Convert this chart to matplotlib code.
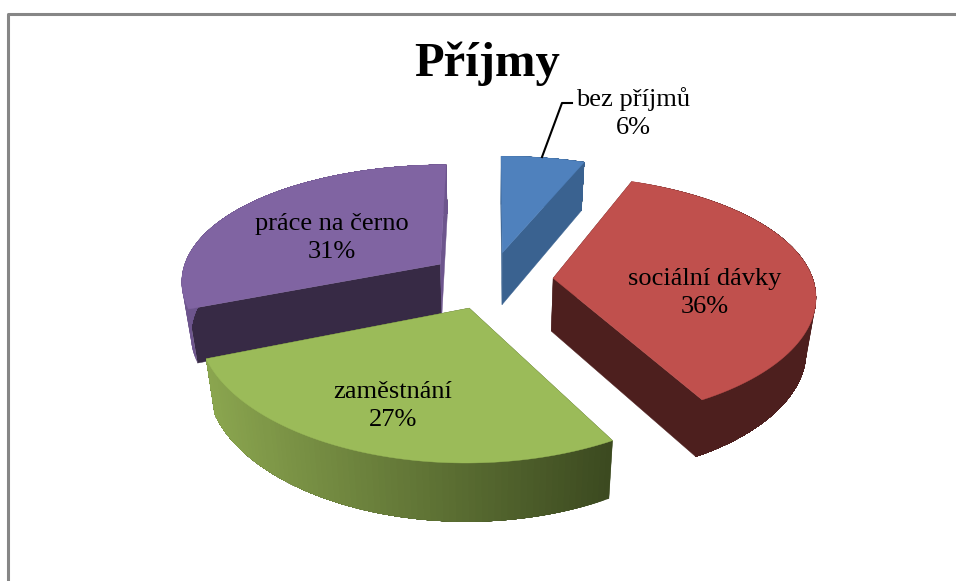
import numpy as np
import matplotlib
matplotlib.use('Agg')
import matplotlib.pyplot as plt
from matplotlib.colors import to_rgb
from matplotlib.patches import Polygon

labels = ['bez příjmů', 'sociální dávky', 'zaměstnání', 'práce na černo']
values = [6, 36, 27, 31]
percent_labels = ['6%', '36%', '27%', '31%']

top_colors = ['#4f81bd', '#c0504d', '#9bbb59', '#8064a2']
start_face_colors = ['#3a6290', '#4d1f1e', '#3f4d22', '#372a45']
stop_face_colors = ['#3a6290', '#4d1f1e', '#3f4d22', '#6d558d']
rim_left_colors = ['#3a6290', '#4d1f1e', '#8ba64f', '#6d558d']
rim_right_colors = ['#3a6290', '#4d1f1e', '#3c4a20', '#6d558d']

# Projektion der Torte
CX, CY = 491, 280
RX, RY = 260, 120
PERSP_X = 0.13
PERSP_Y = 0.16
PERSP_Z = 0.08
EXPLODE = 0.24
DEPTH = 53
BOTTOM_SCALE = 0.97


def project(x, y, z=0.0):
    sx = RX * x / (1 + PERSP_X * y)
    if z:
        sx = sx * BOTTOM_SCALE
    sy = CY - RY * y / (1 + PERSP_Y * y) + z / (1 + PERSP_Z * y)
    return np.column_stack((CX + sx, sy))


def blend(c1, c2, t):
    c1 = np.array(to_rgb(c1))
    c2 = np.array(to_rgb(c2))
    return tuple(c1 + (c2 - c1) * t)


def draw_slice(ax, start, stop, i):
    mid = (start + stop) / 2
    ox, oy = EXPLODE * np.sin(mid), EXPLODE * np.cos(mid)
    theta = np.linspace(start, stop, 80)
    x = ox + np.sin(theta)
    y = oy + np.cos(theta)

    # radiale Seitenflaechen
    for a, col in ((start, start_face_colors[i]), (stop, stop_face_colors[i])):
        xs = np.array([ox, ox + np.sin(a)])
        ys = np.array([oy, oy + np.cos(a)])
        quad = np.vstack((project(xs, ys), project(xs, ys, DEPTH)[::-1]))
        ax.add_patch(Polygon(quad, fc=col, ec=col, lw=0.3))

    # Rand mit Farbverlauf, verschachtelt damit keine Streifen entstehen
    up = project(x, y)
    down = project(x, y, DEPTH)
    left, right = up[:, 0].min(), up[:, 0].max()
    for k in range(len(theta) - 1):
        t = (up[k, 0] - left) / max(right - left, 1)
        col = blend(rim_left_colors[i], rim_right_colors[i], t)
        rim = np.vstack((up[k:], down[k:][::-1]))
        ax.add_patch(Polygon(rim, fc=col, ec='none'))

    # Oberseite
    top = np.vstack((project(np.array([ox]), np.array([oy])), up))
    ax.add_patch(Polygon(top, fc=top_colors[i], ec=top_colors[i], lw=0.3))


fig = plt.figure(figsize=(9.56, 5.81), dpi=100)
ax = fig.add_axes([0, 0, 1, 1])
ax.set_xlim(0, 956)
ax.set_ylim(581, 0)
ax.axis('off')

# Rahmen
ax.plot([8.5, 8.5, 956], [581, 13.5, 13.5], color='#868686', lw=2.2, solid_capstyle='butt')

edges = np.cumsum([0] + values) / sum(values) * 2 * np.pi
# Reihenfolge: hinten nach vorne
for i in [3, 0, 1, 2]:
    draw_slice(ax, edges[i], edges[i + 1], i)

ax.plot([542, 562, 572], [157, 103, 103], color='black', lw=1.5)

font = ['Liberation Serif', 'DejaVu Serif']
ax.text(487, 64, 'Příjmy', family=font, fontsize=35, fontweight='bold', ha='center', va='center')

label_pos = [(633, 113), (705, 293), (393, 406), (332, 238)]
for name, pct, (lx, ly) in zip(labels, percent_labels, label_pos):
    ax.text(lx, ly, name + '\n' + pct, family=font, fontsize=19, ha='center', va='center', linespacing=1.4)

fig.savefig('out.png', dpi=100)
